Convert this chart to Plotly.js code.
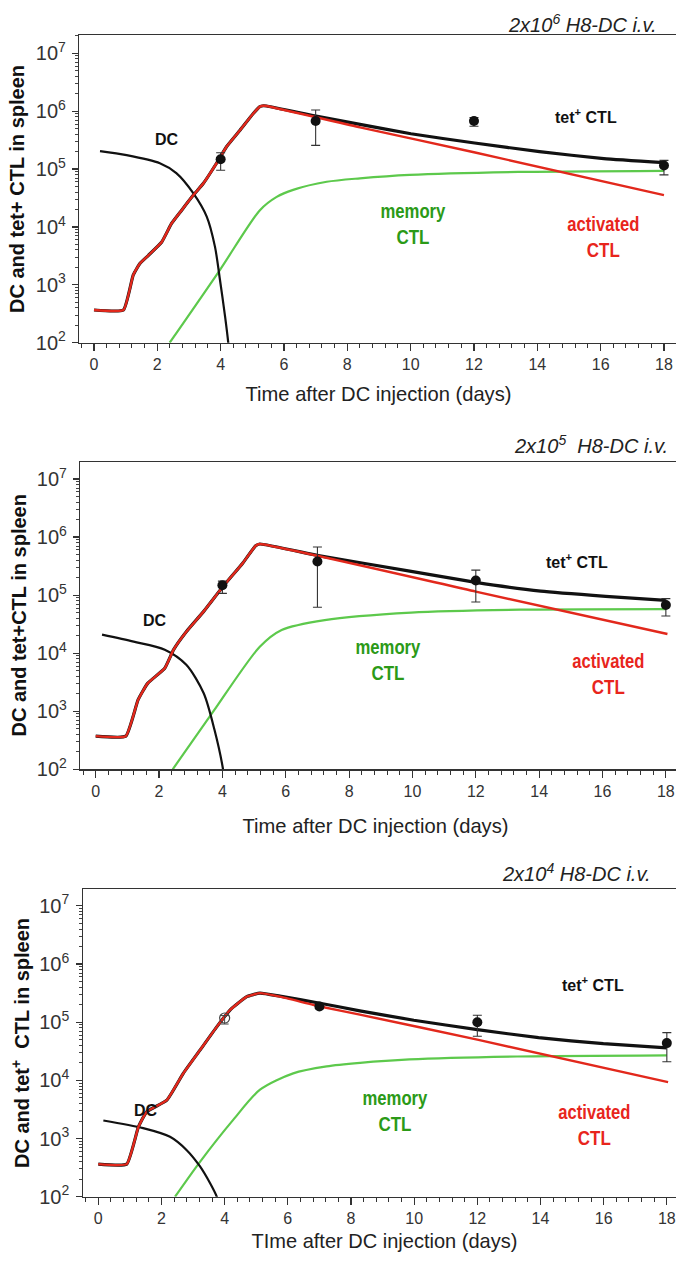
<!DOCTYPE html>
<html>
<head>
<meta charset="utf-8">
<script src="https://cdn.plot.ly/plotly-3.0.1.min.js"></script>
<style>
html,body{margin:0;padding:0;background:#fff;}
#chart{width:676px;height:1262px;}
</style>
</head>
<body>
<div id="chart"></div>
<script>
// ---------- DATA ----------
// Panel 1: 2x10^6 H8-DC
var act1_t = [0, 0.93, 1.24, 1.45, 1.72, 2.14, 2.45, 2.77, 3.14, 3.45, 3.87, 4.19, 4.61, 5.03, 5.24, 5.35, 5.45, 8.4, 12, 18];
var act1   = [367, 367, 1480, 2340, 3240, 5500, 11500, 19500, 35500, 56200, 126000, 245000, 468000, 912000, 1200000, 1240000, 1230000, 525000, 195000, 35500];
var tet1_t = [0, 0.93, 1.24, 1.45, 1.72, 2.14, 2.45, 2.77, 3.14, 3.45, 3.87, 4.19, 4.61, 5.03, 5.24, 5.35, 5.45, 6.97, 8.4, 10.01, 12.02, 14.07, 16.1, 18];
var tet1   = [367, 367, 1480, 2340, 3240, 5500, 11500, 19500, 35500, 56200, 126000, 245000, 468000, 912000, 1200000, 1240000, 1230000, 832000, 590000, 407000, 282000, 200000, 151000, 129000];
var mem1_t = [2.39, 3.98, 5.24, 5.77, 6.29, 7.35, 8.4, 9.97, 13.4, 18];
var mem1   = [100, 1820, 19500, 33100, 43700, 60300, 69200, 79400, 89100, 93300];
var dc1_t  = [0.19, 1.03, 2.08, 2.6, 3.14, 3.56, 3.82, 3.98, 4.14, 4.24, 4.3];
var dc1    = [204000, 174000, 126000, 85100, 38000, 15100, 4570, 1200, 282, 100, 40];
var obs1_t  = [4, 7, 12, 18];
var obs1    = [148000, 676000, 676000, 115000];
var obs1_hi = [191000, 1050000, 776000, 141000];
var obs1_lo = [95500, 257000, 550000, 79400];

// Panel 2: 2x10^5 H8-DC
var act2_t = [0, 0.95, 1.34, 1.64, 2.18, 2.46, 2.86, 3.41, 4.02, 4.64, 5.05, 5.18, 12, 18.05];
var act2   = [372, 372, 1580, 3020, 5500, 11500, 23400, 52500, 141000, 355000, 708000, 759000, 115000, 21400];
var tet2_t = [0, 0.95, 1.34, 1.64, 2.18, 2.46, 2.86, 3.41, 4.02, 4.64, 5.05, 5.18, 7.03, 9.96, 12, 14.05, 16.1, 18];
var tet2   = [372, 372, 1580, 3020, 5500, 11500, 23400, 52500, 141000, 355000, 708000, 759000, 479000, 257000, 166000, 117000, 95500, 81300];
var mem2_t = [2.43, 3.68, 5.18, 5.87, 7.23, 9.96, 13.4, 18];
var mem2   = [100, 933, 12900, 25100, 37200, 50100, 56200, 57500];
var dc2_t  = [0.2, 1.2, 2.18, 2.86, 3.41, 3.75, 4.02, 4.08];
var dc2    = [20900, 15800, 11500, 6310, 2040, 479, 100, 50];
var obs2_t  = [4, 7, 12, 18];
var obs2    = [148000, 380000, 178000, 67600];
var obs2_hi = [174000, 676000, 269000, 87100];
var obs2_lo = [107000, 61700, 75900, 43700];

// Panel 3: 2x10^4 H8-DC
var act3_t = [0, 0.9, 1.27, 1.53, 2.17, 2.69, 3.22, 3.75, 4.17, 4.7, 5.12, 5.75, 7.02, 8.28, 12, 18.04];
var act3   = [363, 363, 1580, 2880, 4570, 13200, 33100, 83200, 162000, 275000, 316000, 275000, 186000, 135000, 50100, 9330];
var tet3_t = [0, 0.9, 1.27, 1.53, 2.17, 2.69, 3.22, 3.75, 4.17, 4.7, 5.12, 5.75, 7.02, 8.28, 9.99, 12, 13.94, 15.99, 18];
var tet3   = [363, 363, 1580, 2880, 4570, 13200, 33100, 83200, 162000, 275000, 316000, 280000, 212000, 157000, 108000, 74500, 54200, 42700, 36300];
var mem3_t = [2.43, 3.22, 4.27, 5.12, 6.17, 7.23, 8.29, 9.85, 13.26, 18];
var mem3   = [100, 398, 2090, 6920, 13200, 17400, 20000, 22900, 25700, 26900];
var dc3_t  = [0.16, 1.42, 2.27, 2.8, 3.22, 3.54, 3.75, 3.85];
var dc3    = [2040, 1510, 1070, 631, 331, 170, 100, 63];
var obs3_t  = [7, 12, 18];
var obs3    = [186000, 100000, 43700];
var obs3_hi = [200000, 132000, 66100];
var obs3_lo = [170000, 57500, 20900];
var open3_t  = [4];
var open3    = [118000];
var open3_hi = [130000];
var open3_lo = [93000];

// ---------- TEXT ----------
var headers = ['2x10<sup>6</sup> H8-DC i.v.', '2x10<sup>5</sup>  H8-DC i.v.', '2x10<sup>4</sup> H8-DC i.v.'];
var yTitles = ['DC and tet+ CTL in spleen', 'DC and tet+CTL in spleen', 'DC and tet<sup>+</sup>  CTL in spleen'];
var xTitles = ['Time after DC injection (days)', 'Time after DC injection (days)', 'TIme after DC injection (days)'];
var xTickVals = [0, 2, 4, 6, 8, 10, 12, 14, 16, 18];

// ---------- STYLE ----------
var RED = '#e2281c', GREEN = '#5dc94c', BLACK = '#111111';
var TXT_GREEN = '#2b9a17', TXT_RED = '#e8251c';
var SANS = 'Liberation Sans, Arial, Helvetica, sans-serif';
// widths (px) used to condense some labels, as in the narrow font of the original
var lineWidths = {'memory': 65, 'CTL': 33, 'activated': 72,
  'Time after DC injection (days)': 266, 'TIme after DC injection (days)': 266};

var panels = [
  {act_t:act1_t, act:act1, tet_t:tet1_t, tet:tet1, mem_t:mem1_t, mem:mem1, dc_t:dc1_t, dc:dc1,
   o_t:obs1_t, o:obs1, o_hi:obs1_hi, o_lo:obs1_lo},
  {act_t:act2_t, act:act2, tet_t:tet2_t, tet:tet2, mem_t:mem2_t, mem:mem2, dc_t:dc2_t, dc:dc2,
   o_t:obs2_t, o:obs2, o_hi:obs2_hi, o_lo:obs2_lo},
  {act_t:act3_t, act:act3, tet_t:tet3_t, tet:tet3, mem_t:mem3_t, mem:mem3, dc_t:dc3_t, dc:dc3,
   o_t:obs3_t, o:obs3, o_hi:obs3_hi, o_lo:obs3_lo}
];

var W = 676, H = 1262;
var geo = [
  {left:79.3, top:35.3, bottom:342.7, xr:[-0.464, 18.38], ytop:7.311},
  {left:80.3, top:461.7, bottom:769.3, xr:[-0.486, 18.32], ytop:7.298},
  {left:82.7, top:889, bottom:1196.7, xr:[-0.494, 18.29], ytop:7.29}
];
var labelPos = [
  {dc:[2.3, 5.51], tet:[15.55, 5.92], mem:[10.1, 4.05], act:[16.1, 3.82]},
  {dc:[1.87, 4.57], tet:[15.2, 5.58], mem:[9.25, 3.89], act:[16.2, 3.65]},
  {dc:[1.51, 3.49], tet:[15.65, 5.65], mem:[9.4, 3.48], act:[15.7, 3.23]}
];
var headerPos = [[658, 23], [670, 445], [652, 872]];
var xTitlePos = [[378, 393], [376, 825], [384, 1240]];
var yTitlePos = [[17, 189], [18, 615.5], [20, 1043]];

var traces = [];
var layout = {
  width: W, height: H,
  margin: {l:0, r:0, t:0, b:0},
  paper_bgcolor: '#fff', plot_bgcolor: '#fff',
  showlegend: false,
  annotations: []
};

panels.forEach(function(p, i){
  var n = i + 1;
  var xa = 'x' + (n === 1 ? '' : n), ya = 'y' + (n === 1 ? '' : n);
  var g = geo[i];
  traces.push({x:p.mem_t, y:p.mem, xaxis:xa, yaxis:ya, mode:'lines',
    line:{color:GREEN, width:2.2, shape:'spline', smoothing:0.8}});
  traces.push({x:p.dc_t, y:p.dc, xaxis:xa, yaxis:ya, mode:'lines',
    line:{color:BLACK, width:2.2, shape:'spline', smoothing:0.8}});
  traces.push({x:p.tet_t, y:p.tet, xaxis:xa, yaxis:ya, mode:'lines',
    line:{color:BLACK, width:3.2, shape:'spline', smoothing:0.4}});
  traces.push({x:p.act_t, y:p.act, xaxis:xa, yaxis:ya, mode:'lines',
    line:{color:RED, width:2.4, shape:'spline', smoothing:0.4}});
  var up = p.o_hi.map(function(v, k){return v - p.o[k];});
  var dn = p.o.map(function(v, k){return v - p.o_lo[k];});
  traces.push({x:p.o_t, y:p.o, xaxis:xa, yaxis:ya, mode:'markers',
    marker:{color:BLACK, size:10, symbol:'circle'},
    error_y:{type:'data', symmetric:false, array:up, arrayminus:dn, color:'#333', thickness:1.1, width:4.5}});

  var axCommon = {
    showline:true, linecolor:'#333', linewidth:1.2, showgrid:false, zeroline:false,
    ticks:'outside', tickcolor:'#333', tickfont:{family:SANS, size:16, color:'#333'}
  };
  layout['xaxis' + (n === 1 ? '' : n)] = Object.assign({}, axCommon, {
    anchor: ya, domain:[g.left / W, 1], range:g.xr, mirror:true,
    tickmode:'array', tickvals:xTickVals, ticklen:7, tickwidth:1.2,
    minor:{dtick:0.4, tick0:0, ticks:'outside', ticklen:4, tickcolor:'#333', tickwidth:1}
  });
  layout['yaxis' + (n === 1 ? '' : n)] = Object.assign({}, axCommon, {
    anchor: xa, type:'log', domain:[1 - g.bottom / H, 1 - g.top / H], range:[2, g.ytop],
    dtick:1, exponentformat:'power', ticklen:6, tickwidth:1.2, ticklabelstandoff:3,
    minor:{dtick:'D1', ticks:'outside', ticklen:3, tickcolor:'#444', tickwidth:1}
  });

  var lp = labelPos[i];
  layout.annotations.push(
    {xref:xa, yref:ya, x:lp.dc[0], y:lp.dc[1], text:'DC', showarrow:false,
     font:{family:SANS, size:16, color:BLACK, weight:'bold'}},
    {xref:xa, yref:ya, x:lp.tet[0], y:lp.tet[1], text:'tet<sup>+</sup> CTL', showarrow:false,
     font:{family:SANS, size:16, color:BLACK, weight:'bold'}},
    {xref:xa, yref:ya, x:lp.mem[0], y:lp.mem[1], text:'memory<br>CTL', showarrow:false,
     font:{family:SANS, size:20, color:TXT_GREEN, weight:'bold'}},
    {xref:xa, yref:ya, x:lp.act[0], y:lp.act[1], text:'activated<br>CTL', showarrow:false,
     font:{family:SANS, size:20, color:TXT_RED, weight:'bold'}},
    {xref:'paper', yref:'paper', x:headerPos[i][0] / W, y:1 - headerPos[i][1] / H, xanchor:'right', yanchor:'middle',
     text:headers[i], showarrow:false, font:{family:SANS, size:20, color:'#222', style:'italic'}},
    {xref:'paper', yref:'paper', x:xTitlePos[i][0] / W, y:1 - xTitlePos[i][1] / H, xanchor:'center', yanchor:'middle',
     text:xTitles[i], showarrow:false, font:{family:SANS, size:21, color:'#222'}},
    {xref:'paper', yref:'paper', x:yTitlePos[i][0] / W, y:1 - yTitlePos[i][1] / H, xanchor:'center', yanchor:'middle',
     text:yTitles[i], textangle:-90, showarrow:false, font:{family:SANS, size:20, color:'#111', weight:'bold'}}
  );
});

traces.push({x:open3_t, y:open3, xaxis:'x3', yaxis:'y3', mode:'markers',
  marker:{color:'#444', size:10, symbol:'circle-open', line:{width:1.2}},
  error_y:{type:'data', symmetric:false,
    array:open3_hi.map(function(v,k){return v - open3[k];}),
    arrayminus:open3.map(function(v,k){return v - open3_lo[k];}),
    color:'#444', thickness:1, width:4}});

Plotly.newPlot('chart', traces, layout, {staticPlot:true}).then(function(gd){
  gd.querySelectorAll('.annotation-text').forEach(function(el){
    var lines = el.querySelectorAll('tspan.line');
    if (!lines.length) lines = [el];
    lines.forEach(function(ln){
      var w = lineWidths[ln.textContent];
      if (w) {
        ln.setAttribute('textLength', w);
        ln.setAttribute('lengthAdjust', 'spacingAndGlyphs');
      }
    });
  });
});
</script>
</body>
</html>
